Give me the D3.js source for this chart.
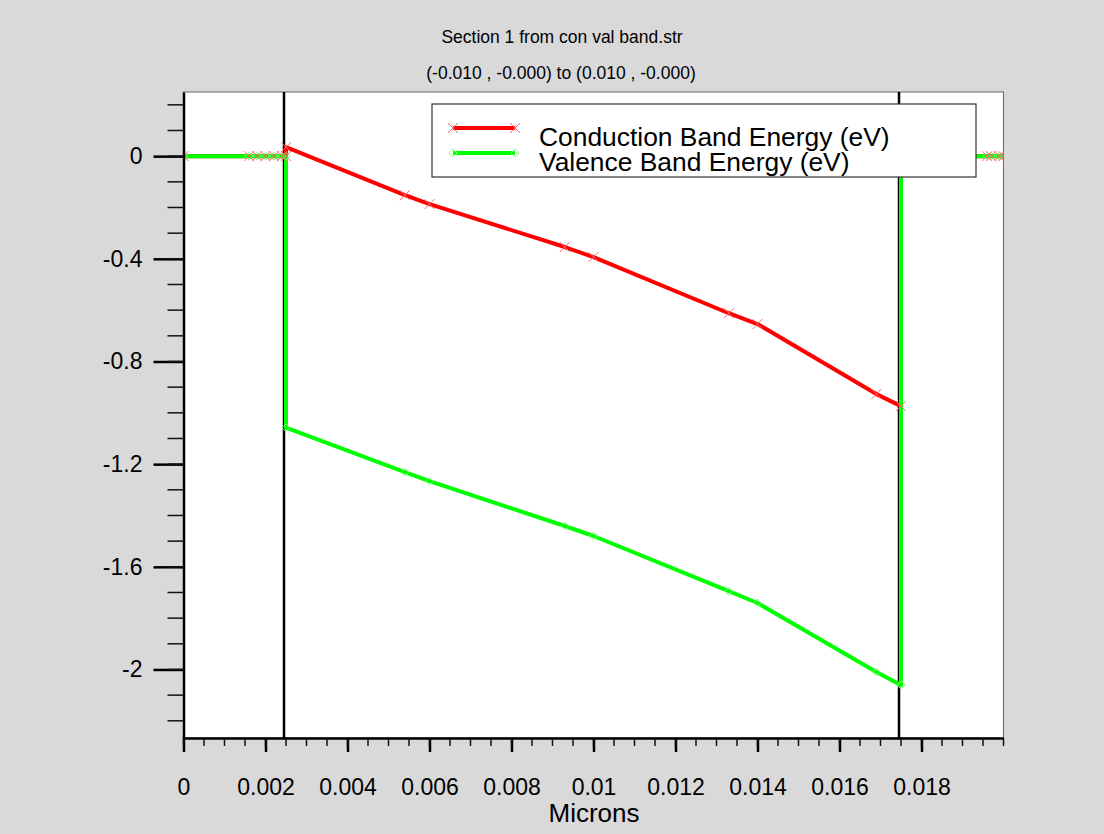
<!DOCTYPE html>
<html>
<head>
<meta charset="utf-8">
<script src="https://cdn.jsdelivr.net/npm/d3@7"></script>
<style>
  body { margin: 0; background: #d9d9d9; }
  text { font-family: "Liberation Sans", Arial, sans-serif; fill: #000; }
</style>
</head>
<body>
<script>
// data
var xPos = [0, 0.0016, 0.0018, 0.002, 0.0022, 0.0024, 0.0025, 0.0025, 0.0054, 0.006, 0.0093, 0.01,
            0.0133, 0.014, 0.0169, 0.0175, 0.0175, 0.0196, 0.0197, 0.0199, 0.02];
var condE = [0, 0, 0, 0, 0, 0, 0, 0.035, -0.152, -0.187, -0.354, -0.393,
             -0.612, -0.654, -0.927, -0.974, 0, 0, 0, 0, 0];
var valE = [0, 0, 0, 0, 0, 0, 0, -1.058, -1.231, -1.266, -1.441, -1.48,
            -1.695, -1.741, -2.01, -2.061, 0, 0, 0, 0, 0];
var boundaries = [0.0025, 0.0175];
var xTicks = [0, 0.002, 0.004, 0.006, 0.008, 0.01, 0.012, 0.014, 0.016, 0.018];
var yTicks = [0, -0.4, -0.8, -1.2, -1.6, -2];
var seriesNames = ["Conduction Band Energy (eV)", "Valence Band Energy (eV)"];
var seriesColors = ["#ff0000", "#00ff00"];
var markerColors = ["#ff6a6a", "#7dff7d"];

var W = 1104, H = 834;
var pLeft = 183.5, pRight = 1003.5, pTop = 92, pBottom = 738;

var svg = d3.select("body").append("svg")
    .attr("width", W)
    .attr("height", H)

var x = d3.scaleLinear().domain([0, 0.02]).range([pLeft, pRight]);
var y = d3.scaleLinear().domain([-2.267, 0.25]).range([pBottom, pTop]);

// titles
svg.append("text").attr("x", 562).attr("y", 43).attr("text-anchor", "middle")
    .style("font-size", "17.5px").text("Section 1 from con val band.str");
svg.append("text").attr("x", 561).attr("y", 79).attr("text-anchor", "middle")
    .style("font-size", "17.5px").text("(-0.010 , -0.000) to (0.010 , -0.000)");

// plot area
svg.append("rect").attr("x", pLeft).attr("y", pTop)
    .attr("width", pRight - pLeft).attr("height", pBottom - pTop)
    .attr("fill", "#fff").attr("stroke", "#666").attr("stroke-width", 1);

svg.append("clipPath").attr("id", "clip").append("rect")
    .attr("x", pLeft).attr("y", pTop).attr("width", pRight - pLeft).attr("height", pBottom - pTop);

var plot = svg.append("g").attr("clip-path", "url(#clip)");

// region boundaries
plot.selectAll("line.bound")
    .data(boundaries)
    .enter()
    .append("line")
    .classed("bound", true)
    .attr("x1", d => x(d) - 2).attr("x2", d => x(d) - 2)
    .attr("y1", pTop).attr("y2", pBottom)
    .attr("stroke", "#000").attr("stroke-width", 2.5);

var series = [condE, valE];
var line = d3.line().x((d, i) => x(xPos[i])).y(d => y(d));

series.forEach((s, k) => {
    plot.append("path")
        .attr("d", line(s))
        .attr("fill", "none")
        .attr("stroke", seriesColors[k])
        .attr("stroke-width", 4)
        .attr("stroke-linejoin", "round");
});

function crossPath(cx, cy, r) {
    return "M" + (cx - r) + "," + (cy - r) + "L" + (cx + r) + "," + (cy + r) +
        "M" + (cx - r) + "," + (cy + r) + "L" + (cx + r) + "," + (cy - r);
}
function diamondPath(cx, cy, r) {
    return "M" + (cx - r) + "," + cy + "L" + cx + "," + (cy - r) + "L" + (cx + r) + "," + cy +
        "L" + cx + "," + (cy + r) + "Z";
}

// markers
plot.selectAll("path.vmark")
    .data(valE)
    .enter()
    .append("path")
    .classed("vmark", true)
    .attr("d", (d, i) => diamondPath(x(xPos[i]), y(d), 4))
    .attr("fill", "none")
    .attr("stroke", markerColors[1])
    .attr("stroke-width", 1);

plot.selectAll("path.cmark")
    .data(condE)
    .enter()
    .append("path")
    .classed("cmark", true)
    .attr("d", (d, i) => crossPath(x(xPos[i]), y(d), 5))
    .attr("fill", "none")
    .attr("stroke", markerColors[0])
    .attr("stroke-width", 1);

// legend
var lg = svg.append("g");
lg.append("rect").attr("x", 432).attr("y", 104).attr("width", 544).attr("height", 73)
    .attr("fill", "#fff").attr("stroke", "#333").attr("stroke-width", 1.2);
seriesNames.forEach((name, k) => {
    var ly = 128 + k * 25;
    lg.append("line").attr("x1", 453).attr("x2", 515).attr("y1", ly).attr("y2", ly)
        .attr("stroke", seriesColors[k]).attr("stroke-width", 4);
    [453, 515].forEach(px => {
        lg.append("path")
            .attr("d", k == 0 ? crossPath(px, ly, 5) : diamondPath(px, ly, 4))
            .attr("fill", "none").attr("stroke", markerColors[k]).attr("stroke-width", 1);
    });
    lg.append("text").attr("x", 539).attr("y", 146 + k * 25)
        .style("font-size", "26.4px").text(name);
});

// x axis
var xAxis = d3.axisBottom(x).tickValues(xTicks).tickSize(14).tickSizeOuter(0)
    .tickFormat(d => d == 0 ? "0" : d3.format(".3~f")(d));
var gx = svg.append("g").attr("transform", "translate(0," + pBottom + ")").call(xAxis);
gx.select(".domain").attr("stroke", "#000").attr("stroke-width", 2.5);
gx.selectAll(".tick line").attr("stroke", "#000").attr("stroke-width", 2.5);
gx.selectAll(".tick text").attr("dy", 0).attr("y", 57).style("font-size", "23px").style("font-family", null);
svg.append("g").selectAll("line")
    .data(d3.range(0, 41).map(i => i * 0.0005))
    .enter().append("line")
    .attr("x1", d => x(d)).attr("x2", d => x(d))
    .attr("y1", pBottom).attr("y2", pBottom + 8)
    .attr("stroke", "#111").attr("stroke-width", 1.5);
svg.append("text").attr("x", 594).attr("y", 822).attr("text-anchor", "middle")
    .style("font-size", "26px").text("Microns");

// y axis
var yAxis = d3.axisLeft(y).tickValues(yTicks).tickSize(30).tickSizeOuter(0)
    .tickFormat(d => String(+d.toFixed(1)));
var gy = svg.append("g").attr("transform", "translate(" + pLeft + ",0)").call(yAxis);
gy.select(".domain").attr("stroke", "#000").attr("stroke-width", 2.5);
gy.selectAll(".tick line").attr("stroke", "#000").attr("stroke-width", 2.5);
gy.selectAll(".tick text").attr("x", -41).style("font-size", "23px").style("font-family", null);
svg.append("g").selectAll("line")
    .data(d3.range(-22, 3).map(i => i * 0.1))
    .enter().append("line")
    .attr("x1", pLeft - 16).attr("x2", pLeft)
    .attr("y1", d => y(d)).attr("y2", d => y(d))
    .attr("stroke", "#111").attr("stroke-width", 1.5);
</script>
</body>
</html>
